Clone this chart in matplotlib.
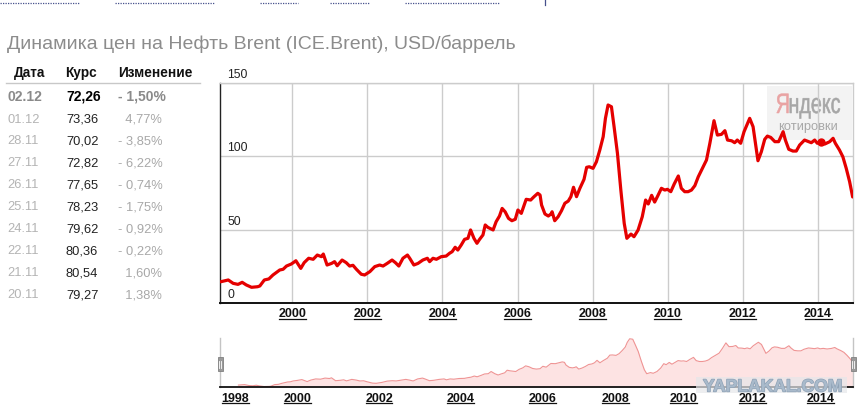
import numpy as np
import matplotlib
matplotlib.use("Agg")
import matplotlib.pyplot as plt
import matplotlib.patheffects as pe
from matplotlib.textpath import TextPath
from matplotlib.patches import PathPatch, Rectangle
from matplotlib.font_manager import FontProperties
from matplotlib.transforms import Affine2D, IdentityTransform, ScaledTranslation, blended_transform_factory
from matplotlib.lines import Line2D

# ---------------- data ----------------
title = "Динамика цен на Нефть Brent (ICE.Brent), USD/баррель"
table_headers = ["Дата", "Курс", "Изменение"]
dates = ["02.12", "01.12", "28.11", "27.11", "26.11", "25.11", "24.11", "22.11", "21.11", "20.11"]
rates = [72.26, 73.36, 70.02, 72.82, 77.65, 78.23, 79.62, 80.36, 80.54, 79.27]
changes = [-1.50, 4.77, -3.85, -6.22, -0.74, -1.75, -0.92, -0.22, 1.60, 1.38]

years = [1998.10, 1998.30, 1998.43, 1998.56, 1998.67, 1998.78, 1998.92, 1999.08, 1999.14, 1999.26,
         1999.38, 1999.49, 1999.67, 1999.76, 1999.85, 1999.98, 2000.10, 2000.23, 2000.32, 2000.44,
         2000.56, 2000.67, 2000.78, 2000.83, 2000.93, 2001.05, 2001.13, 2001.20, 2001.33, 2001.44,
         2001.53, 2001.62, 2001.71, 2001.84, 2001.93, 2002.07, 2002.20, 2002.33, 2002.42, 2002.53,
         2002.66, 2002.75, 2002.84, 2002.95, 2003.07, 2003.13, 2003.24, 2003.35, 2003.48, 2003.60,
         2003.66, 2003.75, 2003.84, 2003.97, 2004.10, 2004.19, 2004.26, 2004.34, 2004.41, 2004.50,
         2004.59, 2004.68, 2004.75, 2004.84, 2004.92, 2004.99, 2005.08, 2005.14, 2005.21, 2005.35,
         2005.43, 2005.52, 2005.59, 2005.67, 2005.76, 2005.85, 2005.94, 2006.01, 2006.10, 2006.23,
         2006.35, 2006.44, 2006.54, 2006.60, 2006.64, 2006.73, 2006.82, 2006.89, 2006.92, 2006.99,
         2007.08, 2007.17, 2007.26, 2007.35, 2007.42, 2007.49, 2007.57, 2007.66, 2007.77, 2007.84,
         2007.91, 2008.01, 2008.10, 2008.19, 2008.28, 2008.34, 2008.41, 2008.50, 2008.57, 2008.66,
         2008.75, 2008.84, 2008.91, 2009.02, 2009.10, 2009.21, 2009.32, 2009.41, 2009.48, 2009.57,
         2009.65, 2009.73, 2009.83, 2009.92, 2009.99, 2010.08, 2010.17, 2010.28, 2010.36, 2010.45,
         2010.54, 2010.63, 2010.72, 2010.81, 2010.90, 2011.03, 2011.12, 2011.23, 2011.32, 2011.43,
         2011.52, 2011.59, 2011.70, 2011.78, 2011.85, 2011.94, 2012.03, 2012.18, 2012.27, 2012.40,
         2012.49, 2012.58, 2012.65, 2012.74, 2012.85, 2012.95, 2013.07, 2013.13, 2013.22, 2013.33,
         2013.42, 2013.51, 2013.64, 2013.75, 2013.82, 2013.91, 2013.98, 2014.07, 2014.18, 2014.31,
         2014.40, 2014.46, 2014.57, 2014.66, 2014.75, 2014.84, 2014.92]
prices = [14.5, 15.7, 13.4, 12.7, 14.1, 12.3, 10.7, 11.1, 11.6, 15.7,
          16.4, 19.1, 22.5, 23.0, 25.2, 26.6, 28.8, 23.6, 27.5, 30.5,
          29.8, 32.7, 31.6, 33.4, 25.9, 27.0, 28.2, 25.4, 29.3, 27.5,
          25.2, 25.7, 23.0, 19.6, 19.1, 21.4, 24.8, 25.9, 25.2, 27.0,
          29.3, 27.5, 25.2, 30.5, 32.7, 30.5, 25.9, 27.0, 29.3, 30.5,
          28.2, 30.5, 29.8, 31.6, 32.0, 33.9, 35.0, 38.0, 36.1, 39.5,
          43.4, 44.1, 49.8, 44.1, 40.7, 43.4, 46.4, 53.2, 51.6, 49.8,
          55.4, 59.3, 64.5, 62.2, 57.7, 56.1, 57.1, 63.4, 61.1, 70.7,
          70.2, 72.5, 74.8, 73.6, 66.8, 60.7, 59.3, 60.7, 62.2, 56.1,
          58.8, 62.9, 68.0, 69.5, 72.5, 78.9, 72.5, 78.2, 84.3, 92.5,
          92.9, 91.8, 96.3, 104.3, 113.4, 125.9, 135.0, 133.8, 120.2, 102.0,
          77.0, 54.3, 44.1, 47.0, 45.2, 49.8, 58.8, 70.2, 67.5, 73.4,
          68.8, 72.9, 78.2, 77.0, 77.5, 75.9, 81.1, 86.6, 78.2, 75.9,
          75.9, 77.0, 80.0, 86.0, 90.7, 97.5, 108.9, 124.3, 114.5, 115.0,
          117.5, 111.1, 110.6, 109.3, 111.1, 108.9, 116.8, 125.9, 120.2, 97.0,
          103.1, 111.6, 113.8, 112.9, 110.0, 110.0, 116.8, 111.1, 104.8, 103.6,
          103.6, 107.7, 111.1, 110.0, 109.3, 111.1, 108.9, 110.0, 108.4, 110.0,
          112.3, 108.9, 104.3, 99.7, 91.8, 82.7, 72.3]
highlight_year = 2014.07

y_ticks = [0, 50, 100, 150]
x_ticks = [2000, 2002, 2004, 2006, 2008, 2010, 2012, 2014]
nav_ticks = [1998, 2000, 2002, 2004, 2006, 2008, 2010, 2012, 2014]

# ---------------- layout helpers ----------------
W, H = 866, 416
FONT = "Liberation Sans"
plt.rcParams["font.family"] = [FONT, "DejaVu Sans"]

fig = plt.figure(figsize=(W / 100, H / 100), dpi=100)
fig.patch.set_facecolor("white")

def fx(px):
    return px / W

def fy(py):
    return 1 - py / H

# top cut-off link underlines
for x0, x1 in [(0, 80), (115, 215), (260, 298), (330, 370), (405, 500)]:
    fig.add_artist(Line2D([fx(x0), fx(x1)], [fy(2.5), fy(2.5)], transform=fig.transFigure,
                          color="#46508c", lw=0.9, ls=(0, (1, 1))))
fig.add_artist(Line2D([fx(545), fx(545)], [fy(0), fy(5)], transform=fig.transFigure,
                      color="#46508c", lw=0.9))

# title
fig.text(fx(7), fy(49), title, fontsize=14, color="#8c8c8c", va="baseline", ha="left")

# ---------------- table ----------------
hx = [14, 65, 118]
for h, x in zip(table_headers, hx):
    fig.text(fx(x), fy(77), h, fontsize=9.8, fontweight="bold", color="#111", va="baseline")
fig.add_artist(Line2D([fx(6), fx(200)], [fy(82.7), fy(82.7)], transform=fig.transFigure,
                      color="#c8c8c8", lw=1))
for i, (d, r, c) in enumerate(zip(dates, rates, changes)):
    yb = fy(100.6 + 21.95 * i)
    bold = (i == 0)
    fw = "bold" if bold else "normal"
    fs = 10 if bold else 9.3
    rs = f"{r:.2f}".replace(".", ",")
    cs = (("- " if c < 0 else "  ") + f"{abs(c):.2f}".replace(".", ",") + "%")
    fig.text(fx(7), yb, d, fontsize=fs, fontweight=fw, color="#8a8a8a" if bold else "#b4b4b4", va="baseline")
    fig.text(fx(66), yb, rs, fontsize=fs, fontweight=fw, color="#000" if bold else "#222", va="baseline")
    fig.text(fx(118), yb, cs, fontsize=fs, fontweight=fw, color="#8a8a8a" if bold else "#a8a8a8", va="baseline")

# ---------------- main chart ----------------
RED = "#e50000"
ax = fig.add_axes([fx(220), fy(303), (853 - 220) / W, (303 - 83) / H])
ax.set_xlim(1998.08, 2014.93)
ax.set_ylim(0, 150)
ax.set_axisbelow(True)
ax.plot(years, prices, color=RED, lw=2.3, solid_joinstyle="round", solid_capstyle="round", zorder=3)
hi = years.index(highlight_year)
ax.plot([years[hi]], [prices[hi]], "o", color=RED, ms=5, zorder=4)
ax.set_yticks(y_ticks)
ax.set_xticks(x_ticks)
ax.grid(True, color="#cccccc", lw=1)
ax.tick_params(axis="both", length=0)
ax.set_yticklabels([])
ax.set_xticklabels([str(t) for t in x_ticks], fontsize=9, fontweight="bold", color="#111")
ax.tick_params(axis="x", pad=3.6)
for s in ["top", "right"]:
    ax.spines[s].set_color("#cccccc")
    ax.spines[s].set_linewidth(1)
ax.spines["left"].set_color("#222")
ax.spines["left"].set_linewidth(1)
ax.spines["bottom"].set_color("#111")
ax.spines["bottom"].set_linewidth(1.4)

# y labels placed above their gridlines, inside the plot
off = ScaledTranslation(0, 5 / 100, fig.dpi_scale_trans)
btr = blended_transform_factory(ax.transAxes, ax.transData) + off
for v in y_ticks:
    ax.text(7.5 / 633, v, str(v), transform=btr, fontsize=8.7, color="#222",
            va="baseline", ha="left", clip_on=False)

# Yandex watermark
ax.add_patch(Rectangle((766.7, H - 140), 85, 54, transform=IdentityTransform(),
                       fc="#f3f3f3", ec="none", zorder=0.3, clip_on=False))
fp = FontProperties(family=FONT)
pY = TextPath((0, 0), "Я", size=28, prop=fp)
pR = TextPath((0, 0), "ндекс", size=28, prop=fp)
eY, eR = pY.get_extents(), pR.get_extents()
gap = 2.0
sx = (840 - 776.7) / (eY.width + eR.width + gap)
base = H - 113
tY = Affine2D().scale(sx, 1).translate(776.7 - eY.x0 * sx, base)
xR = 776.7 + (eY.width + gap) * sx
tR = Affine2D().scale(sx, 1).translate(xR - eR.x0 * sx, base)
ax.add_patch(PathPatch(pY, transform=tY, fc="#e9a3a3", ec="#e9a3a3", lw=0.4, zorder=0.4, clip_on=False))
ax.add_patch(PathPatch(pR, transform=tR, fc="#a6a6a6", ec="#a6a6a6", lw=0.4, zorder=0.4, clip_on=False))
ax.text(778, H - 130, "котировки", transform=IdentityTransform(), fontsize=9.3,
        color="#a8a8a8", va="baseline", ha="left", zorder=0.4, clip_on=False)

# ---------------- navigator ----------------
kn_year = [1997.51, 1998, 2000, 2002, 2004, 2006, 2008, 2010, 2012, 2014, 2014.92]
kn_px = [220, 235.3, 297.8, 379, 460.3, 542.5, 615.7, 683.9, 752.2, 820.8, 853]

def fwd(x):
    return np.interp(x, kn_year, kn_px)

def inv(p):
    return np.interp(p, kn_px, kn_year)

ax2 = fig.add_axes([fx(220), fy(387), (853 - 220) / W, (387 - 338) / H])
ax2.set_xscale("function", functions=(fwd, inv))
ax2.set_xlim(kn_year[0], kn_year[-1])
ax2.set_ylim(9.5, 137)
ax2.fill_between(years, prices, 0, color="#fde3e3", lw=0)
ax2.plot(years, prices, color="#ef9494", lw=0.8)
ax2.set_yticks([])
ax2.set_xticks(nav_ticks)
ax2.set_xticks([], minor=True)
ax2.set_xticklabels([str(t) for t in nav_ticks], fontsize=9, fontweight="bold", color="#111")
ax2.tick_params(axis="x", length=0, pad=4.5)
ax2.spines["top"].set_visible(False)
for s in ["left", "right"]:
    ax2.spines[s].set_color("#c4c4c4")
    ax2.spines[s].set_linewidth(1)
ax2.spines["bottom"].set_color("#111")
ax2.spines["bottom"].set_linewidth(1.3)

# navigator handles
for hx0 in (217.5, 850.5):
    fig.add_artist(Rectangle((fx(hx0), fy(371)), 5.5 / W, 14 / H, transform=fig.transFigure,
                             fc="#9a9a9a", ec="#808080", lw=0.6))
    for dx in (1.9, 3.6):
        fig.add_artist(Line2D([fx(hx0 + dx), fx(hx0 + dx)], [fy(361), fy(367.5)],
                              transform=fig.transFigure, color="white", lw=0.6))

# YAPLAKAL watermark
fig.add_artist(Rectangle((fx(696), fy(392.7)), 151 / W, 16 / H, transform=fig.transFigure,
                         fc="#e6e7ea", ec="none", alpha=0.7))
fig.text(fx(703), fy(391.5), "YAPLAKAL.COM", fontsize=12.6, fontweight="bold",
         color="#a9bacb", va="baseline", ha="left",
         path_effects=[pe.withStroke(linewidth=1.0, foreground="#8fa2b6")])

# underline tick labels
fig.canvas.draw()
rend = fig.canvas.get_renderer()
for axis_obj, uy in ((ax, 319.3), (ax2, 403.4)):
    for lbl in axis_obj.get_xticklabels():
        if not lbl.get_visible() or not lbl.get_text():
            continue
        bb = lbl.get_window_extent(rend)
        fig.add_artist(Line2D([bb.x0 + 0.5, bb.x1 - 0.5], [H - uy, H - uy], transform=IdentityTransform(),
                              color="#111", lw=0.9))

fig.savefig("out.png", dpi=100)
